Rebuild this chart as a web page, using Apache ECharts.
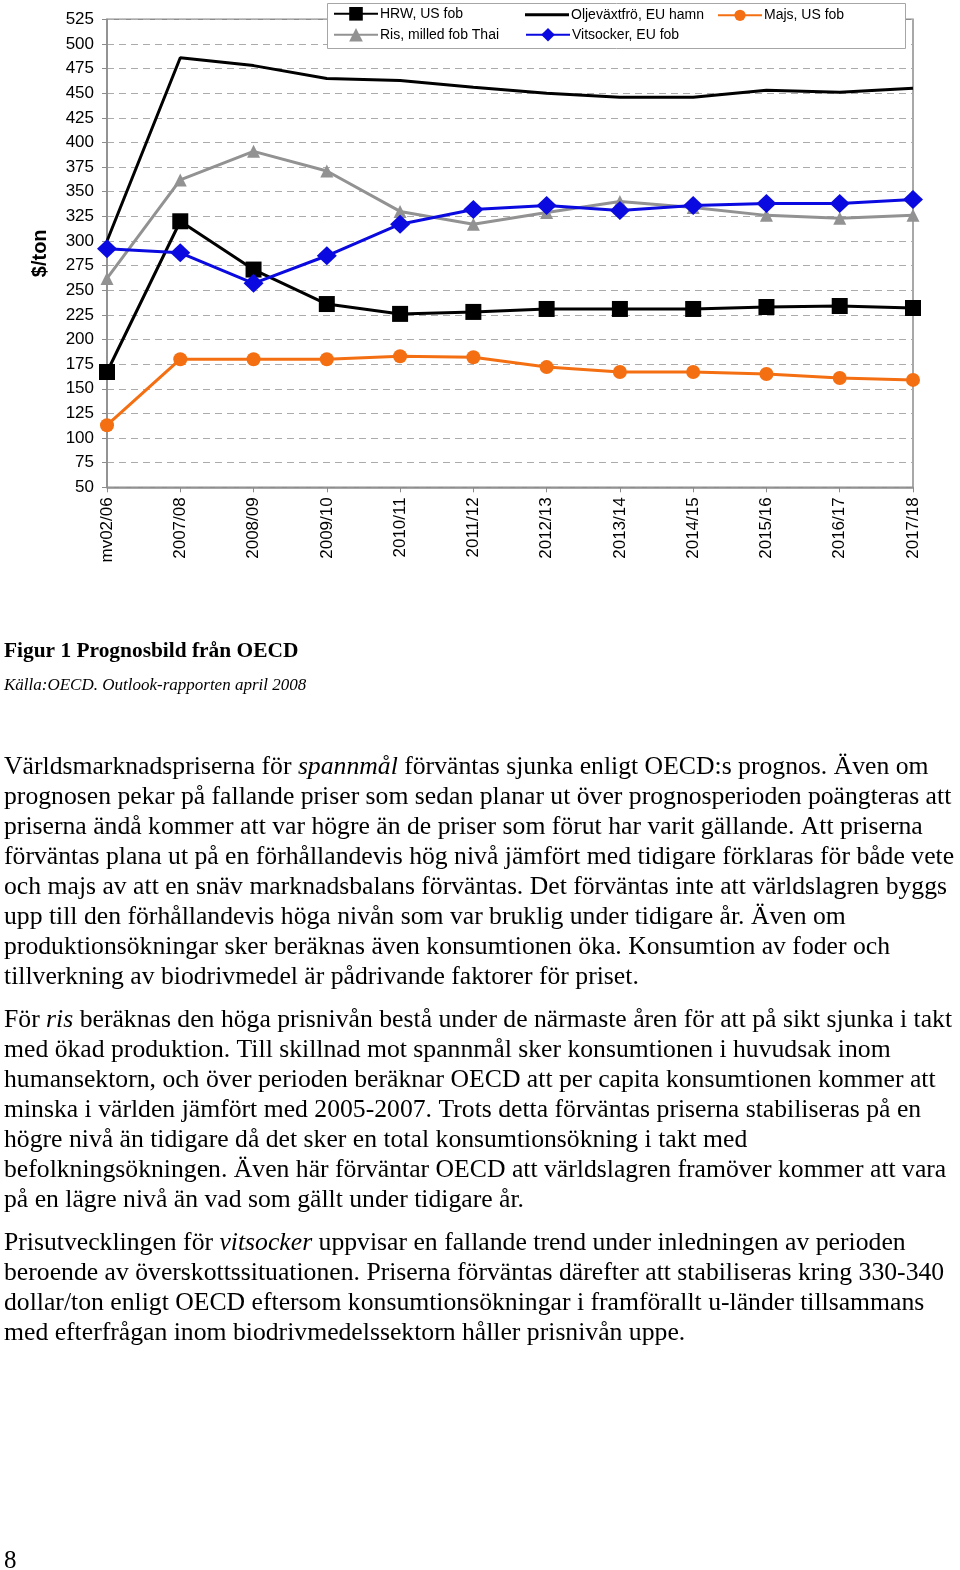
<!DOCTYPE html>
<html><head><meta charset="utf-8">
<script src="https://cdn.jsdelivr.net/npm/echarts@6/dist/echarts.min.js"></script>
<style>html,body{margin:0;padding:0;background:#fff}#c{width:960px;height:1570px}</style>
</head><body><div id="c"></div>
<script>
const categories = ['mv02/06','2007/08','2008/09','2009/10','2010/11','2011/12','2012/13','2013/14','2014/15','2015/16','2016/17','2017/18'];
const hrw       = [167, 320, 271, 236, 226, 228, 231, 231, 231, 233, 234, 232];
const ris       = [262, 362, 391, 371, 330, 317, 329, 340, 334, 326, 323, 326];
const olje      = [300, 486, 478, 465, 463, 456, 450, 446, 446, 453, 451, 455];
const vitsocker = [292, 288, 257, 285, 317, 332, 336, 331, 336, 338, 338, 342];
const majs      = [113, 180, 180, 180, 183, 182, 172, 167, 167, 165, 161, 159];
const seriesNames = ['HRW, US fob', 'Ris, milled fob Thai', 'Oljeväxtfrö, EU hamn', 'Vitsocker, EU fob', 'Majs, US fob'];
const yAxisName = '$/ton';

const figTitle = 'Figur 1 Prognosbild från OECD';
const figSource = 'Källa:OECD. Outlook-rapporten april 2008';
const para1 = [
  'Världsmarknadspriserna för {i|spannmål} förväntas sjunka enligt OECD:s prognos. Även om',
  'prognosen pekar på fallande priser som sedan planar ut över prognosperioden poängteras att',
  'priserna ändå kommer att var högre än de priser som förut har varit gällande. Att priserna',
  'förväntas plana ut på en förhållandevis hög nivå jämfört med tidigare förklaras för både vete',
  'och majs av att en snäv marknadsbalans förväntas. Det förväntas inte att världslagren byggs',
  'upp till den förhållandevis höga nivån som var bruklig under tidigare år. Även om',
  'produktionsökningar sker beräknas även konsumtionen öka. Konsumtion av foder och',
  'tillverkning av biodrivmedel är pådrivande faktorer för priset.'
];
const para2 = [
  'För {i|ris} beräknas den höga prisnivån bestå under de närmaste åren för att på sikt sjunka i takt',
  'med ökad produktion. Till skillnad mot spannmål sker konsumtionen i huvudsak inom',
  'humansektorn, och över perioden beräknar OECD att per capita konsumtionen kommer att',
  'minska i världen jämfört med 2005-2007. Trots detta förväntas priserna stabiliseras på en',
  'högre nivå än tidigare då det sker en total konsumtionsökning i takt med',
  'befolkningsökningen. Även här förväntar OECD att världslagren framöver kommer att vara',
  'på en lägre nivå än vad som gällt under tidigare år.'
];
const para3 = [
  'Prisutvecklingen för {i|vitsocker} uppvisar en fallande trend under inledningen av perioden',
  'beroende av överskottssituationen. Priserna förväntas därefter att stabiliseras kring 330-340',
  'dollar/ton enligt OECD eftersom konsumtionsökningar i framförallt u-länder tillsammans',
  'med efterfrågan inom biodrivmedelssektorn håller prisnivån uppe.'
];
const pageNo = '8';

const serif = '"Liberation Serif", "Times New Roman", serif';
const sans = '"Liberation Sans", Arial, sans-serif';
const BODY = 25.7;

const graphics = [];
graphics.push({type:'rect', z: 3, shape:{x:327.5, y:3.5, width:578, height:45}, style:{fill:'#fff', stroke:'#a6a6a6', lineWidth:1}});
function addLine(text, x, baseline, opts) {
  const fs = opts.fontSize;
  graphics.push({type:'text', x: x, y: baseline - fs*0.33, z: 5,
    style: Object.assign({text: text, fill:'#000', fontFamily: serif, fontSize: fs,
      verticalAlign:'middle', align:'left',
      rich: {i: {fontStyle:'italic', fontFamily: serif, fontSize: fs, fill:'#000'}}}, opts)});
}
addLine(figTitle, 4, 659, {fontSize: 21.4, fontWeight:'bold'});
addLine(figSource, 4, 691.5, {fontSize: 17, fontStyle:'italic'});
para1.forEach((t, k) => addLine(t, 4, 776 + 30*k, {fontSize: BODY}));
para2.forEach((t, k) => addLine(t, 4, 1028.5 + 30*k, {fontSize: BODY}));
para3.forEach((t, k) => addLine(t, 4, 1251.5 + 30*k, {fontSize: BODY}));
addLine(pageNo, 4, 1570, {fontSize: 25});

function legendAt(name, left, top, h) {
  return {data:[name], left: left, top: top, padding: 0, itemWidth: 44, itemHeight: h, itemGap: 0, z: 6,
    textStyle: {fontFamily: sans, fontSize: 14, color:'#000', padding:[0,0,0,-3]}};
}

const chart = echarts.init(document.getElementById('c'), null, {renderer:'canvas'});
chart.setOption({
  animation: false,
  backgroundColor: '#fff',
  textStyle: {fontFamily: sans},
  legend: [
    legendAt(seriesNames[0], 333, 6.8, 17),
    legendAt({name: seriesNames[2], icon: 'rect'}, 525, 7.8, 3),
    legendAt(seriesNames[4], 717, 8.3, 14),
    legendAt(seriesNames[1], 333, 27.8, 17),
    legendAt(seriesNames[3], 525, 27.8, 17)
  ],
  grid: {left: 107, top: 19.3, width: 806, height: 468, show: true, borderColor: '#8c8c8c', borderWidth: 1.5, backgroundColor: 'transparent'},
  xAxis: {
    type: 'category', data: categories, boundaryGap: false,
    axisLine: {lineStyle: {color: '#8c8c8c', width: 1.5}},
    axisTick: {show: true, length: 5, lineStyle: {color: '#8c8c8c'}},
    axisLabel: {rotate: 90, color: '#000', fontSize: 17, fontFamily: sans, margin: 10, interval: 0}
  },
  yAxis: {
    type: 'value', min: 50, max: 525, interval: 25,
    name: yAxisName, nameLocation: 'middle', nameGap: 57,
    nameTextStyle: {fontFamily: sans, fontSize: 20, fontWeight: 'bold', color: '#000'},
    axisLine: {show: true, lineStyle: {color: '#8c8c8c', width: 1.5}},
    axisTick: {show: true, length: 5, lineStyle: {color: '#8c8c8c'}},
    axisLabel: {color: '#000', fontSize: 17, fontFamily: sans, margin: 13},
    splitLine: {show: true, lineStyle: {color: '#ababab', type: [7, 5], width: 1}}
  },
  graphic: graphics,
  series: [
    {name: seriesNames[4], type: 'line', data: majs, symbol: 'circle', symbolSize: 14,
      itemStyle: {color: '#f46f12'}, lineStyle: {color: '#f46f12', width: 3}},
    {name: seriesNames[2], type: 'line', data: olje, symbol: 'none', showSymbol: false,
      itemStyle: {color: '#000'}, lineStyle: {color: '#000', width: 3}},
    {name: seriesNames[1], type: 'line', data: ris, symbol: 'triangle', symbolSize: 13,
      itemStyle: {color: '#929292'}, lineStyle: {color: '#929292', width: 3}},
    {name: seriesNames[0], type: 'line', data: hrw, symbol: 'rect', symbolSize: 16,
      itemStyle: {color: '#000'}, lineStyle: {color: '#000', width: 3}},
    {name: seriesNames[3], type: 'line', data: vitsocker, symbol: 'diamond', symbolSize: [20, 19],
      itemStyle: {color: '#0a0ae0'}, lineStyle: {color: '#0a0ae0', width: 3}}
  ]
});
</script></body></html>
